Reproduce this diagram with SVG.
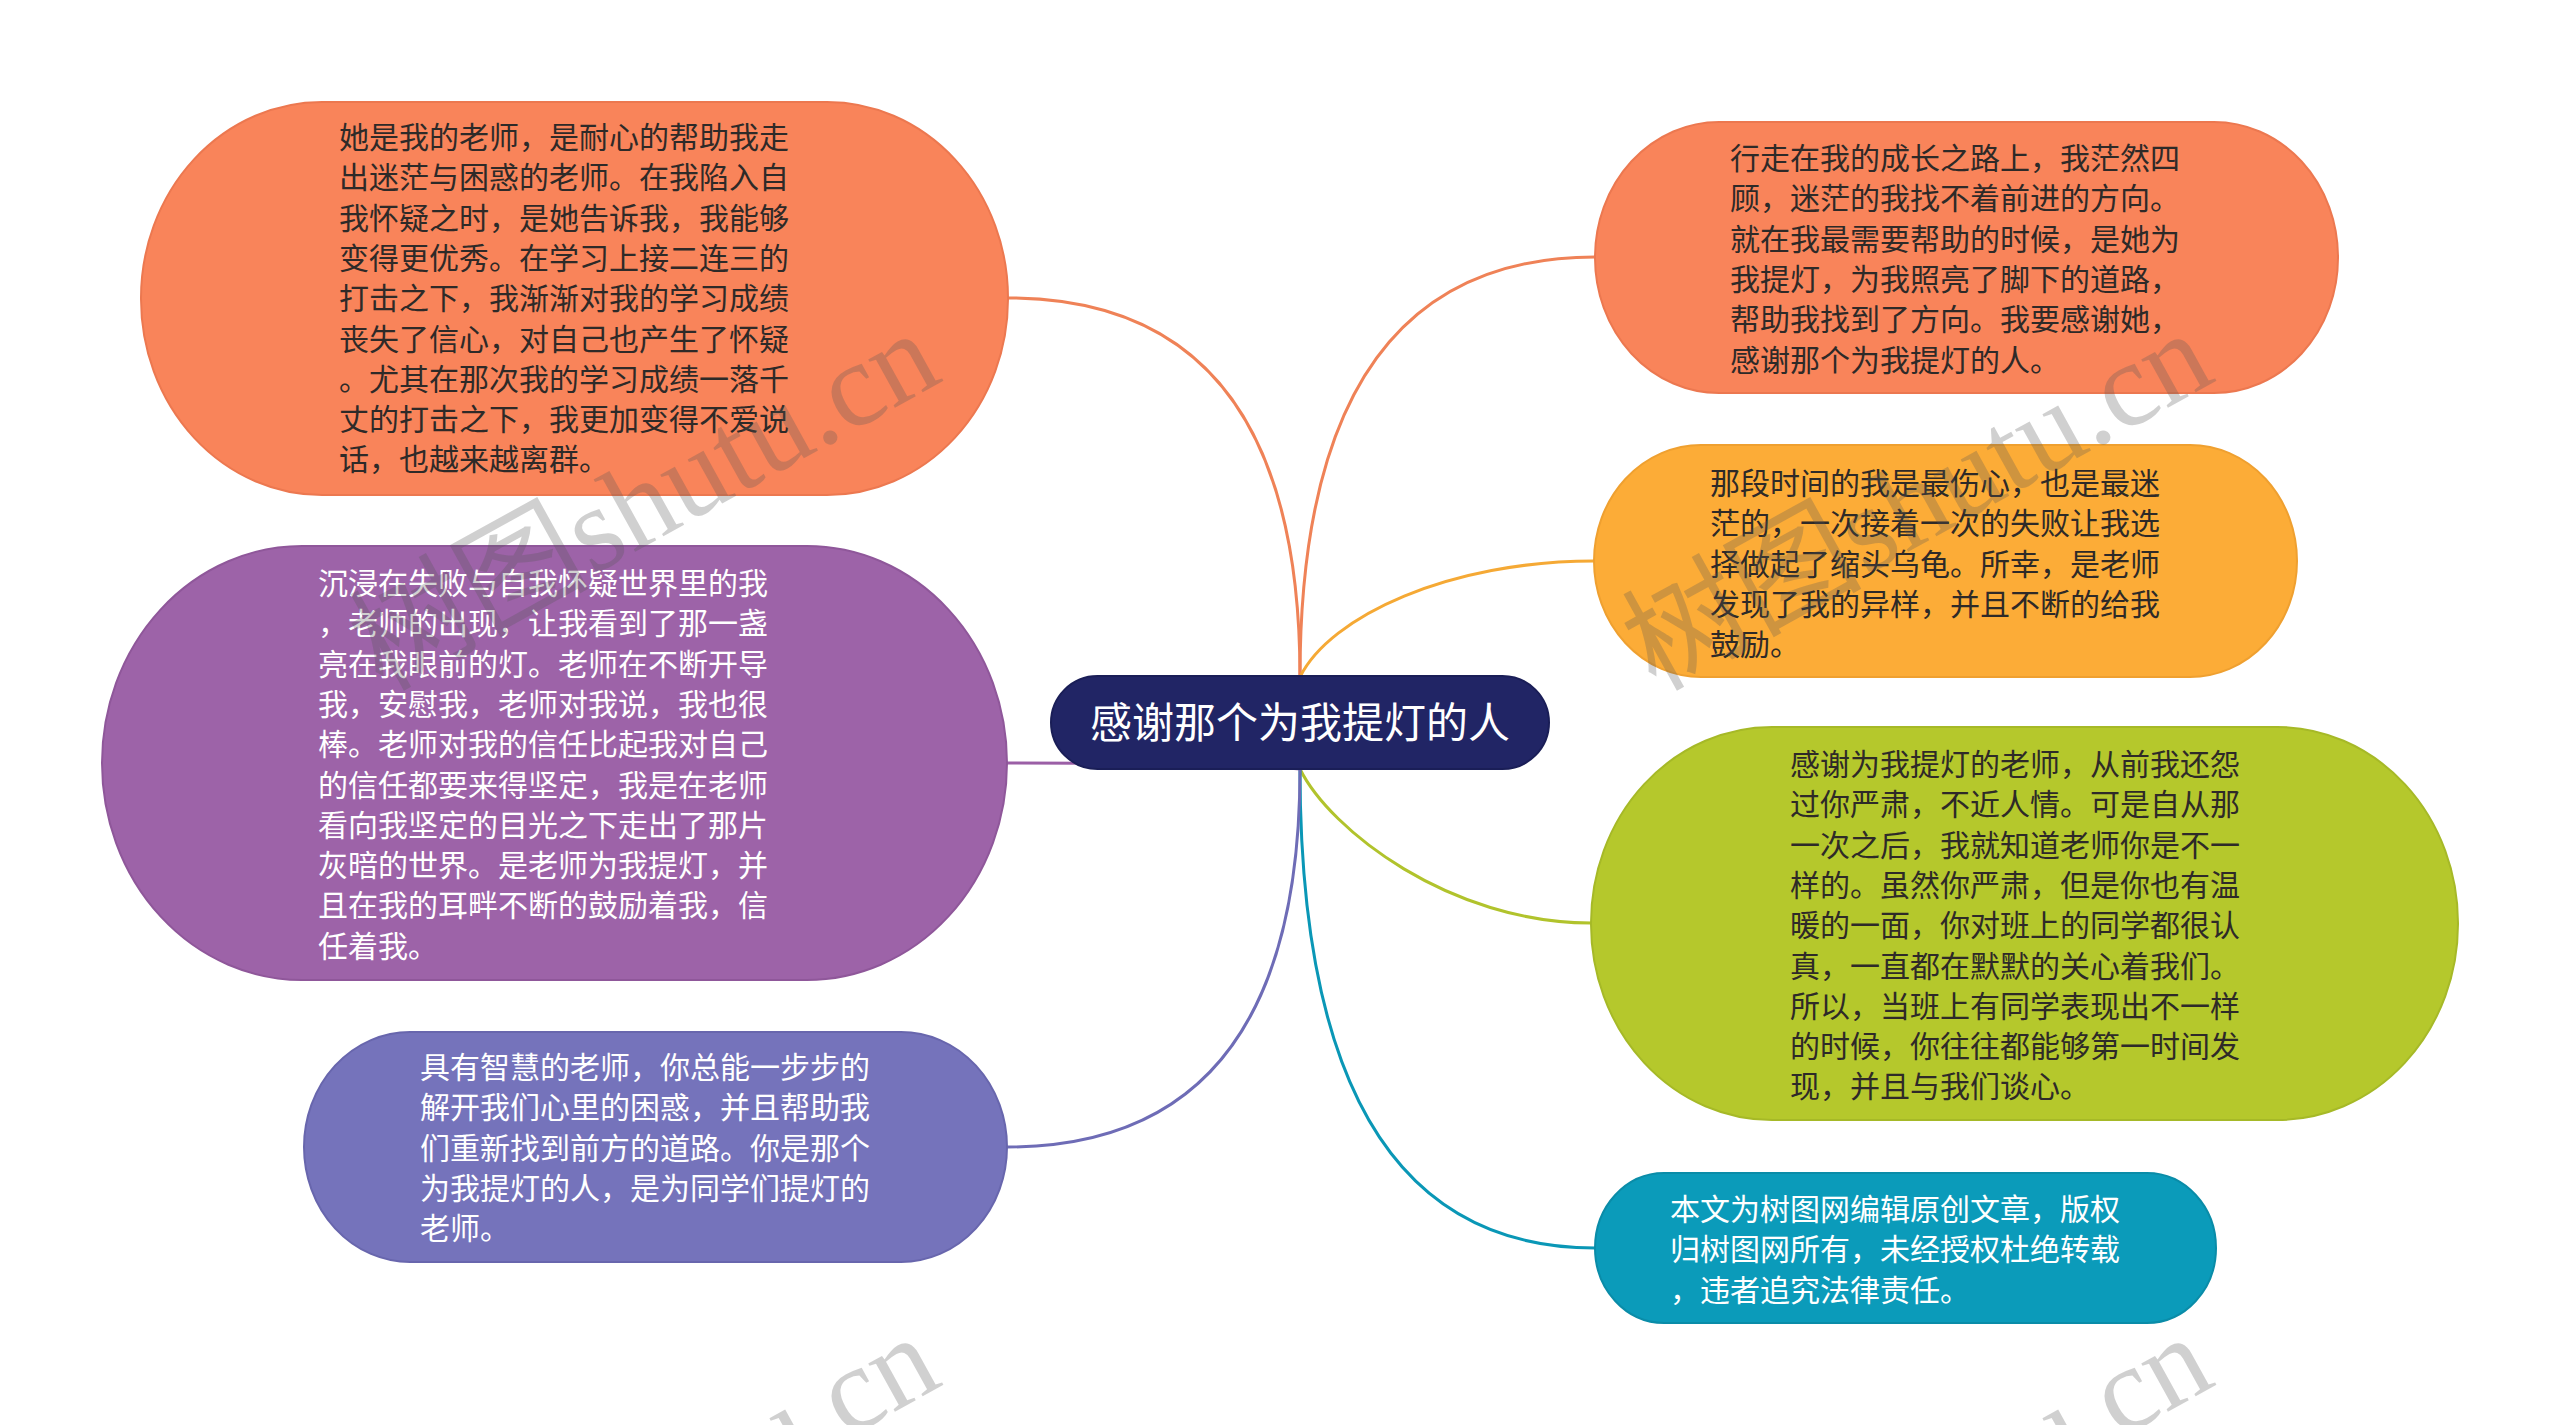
<svg xmlns="http://www.w3.org/2000/svg" width="2560" height="1425" viewBox="0 0 2560 1425">
<style>
.t{font-family:"Noto Sans CJK SC","Noto Sans",sans-serif;font-size:30px}
.dk{fill:#2e2a28}
.wt{fill:#ffffff}
.c{fill:none;stroke-width:3;stroke-linecap:round}
.wm{font-family:"Liberation Serif","Noto Sans CJK SC",serif;font-size:120px;fill:#555;fill-opacity:0.28}
</style>
<rect x="0" y="0" width="2560" height="1425" fill="#ffffff"/>
<g id="connectors">
<path class="c" stroke="#EF8257" d="M1300,677 Q1300,298 1008,298"/>
<path class="c" stroke="#EF8257" d="M1300,677 Q1300,257 1595,257"/>
<path class="c" stroke="#F5A935" d="M1300,677 C1330,616 1450,561 1594,561"/>
<path class="c" stroke="#B1C32C" d="M1300,769 C1330,830 1450,923 1591,923"/>
<path class="c" stroke="#0A97B6" d="M1300,769 Q1300,1248 1595,1248"/>
<path class="c" stroke="#9B5FA6" d="M1300,769 C1250,763 1100,763 1007,763"/>
<path class="c" stroke="#6E6CB6" d="M1300,769 Q1300,1147 1007,1147"/>
</g>
<g id="node-1">
<rect x="141" y="102" width="867" height="393" rx="181" ry="196" fill="#F9845A" stroke="#EC7850" stroke-width="2"/>
<text class="t dk" x="339" y="148"><tspan x="339">她是我的老师，是耐心的帮助我走</tspan><tspan x="339" dy="40.3">出迷茫与困惑的老师。在我陷入自</tspan><tspan x="339" dy="40.3">我怀疑之时，是她告诉我，我能够</tspan><tspan x="339" dy="40.3">变得更优秀。在学习上接二连三的</tspan><tspan x="339" dy="40.3">打击之下，我渐渐对我的学习成绩</tspan><tspan x="339" dy="40.3">丧失了信心，对自己也产生了怀疑</tspan><tspan x="339" dy="40.3">。尤其在那次我的学习成绩一落千</tspan><tspan x="339" dy="40.3">丈的打击之下，我更加变得不爱说</tspan><tspan x="339" dy="40.3">话，也越来越离群。</tspan></text>
</g>
<g id="node-2">
<rect x="1595" y="122" width="743" height="271" rx="124" ry="135" fill="#F9845A" stroke="#EC7850" stroke-width="2"/>
<text class="t dk" x="1730" y="169"><tspan x="1730">行走在我的成长之路上，我茫然四</tspan><tspan x="1730" dy="40.3">顾，迷茫的我找不着前进的方向。</tspan><tspan x="1730" dy="40.3">就在我最需要帮助的时候，是她为</tspan><tspan x="1730" dy="40.3">我提灯，为我照亮了脚下的道路，</tspan><tspan x="1730" dy="40.3">帮助我找到了方向。我要感谢她，</tspan><tspan x="1730" dy="40.3">感谢那个为我提灯的人。</tspan></text>
</g>
<g id="node-3">
<rect x="1594" y="445" width="703" height="232" rx="107" ry="116" fill="#FCAC37" stroke="#EFA030" stroke-width="2"/>
<text class="t dk" x="1710" y="494"><tspan x="1710">那段时间的我是最伤心，也是最迷</tspan><tspan x="1710" dy="40.3">茫的，一次接着一次的失败让我选</tspan><tspan x="1710" dy="40.3">择做起了缩头乌龟。所幸，是老师</tspan><tspan x="1710" dy="40.3">发现了我的异样，并且不断的给我</tspan><tspan x="1710" dy="40.3">鼓励。</tspan></text>
</g>
<g id="node-4">
<rect x="1591" y="727" width="867" height="393" rx="181" ry="196" fill="#B5C82C" stroke="#A6B927" stroke-width="2"/>
<text class="t dk" x="1790" y="775"><tspan x="1790">感谢为我提灯的老师，从前我还怨</tspan><tspan x="1790" dy="40.3">过你严肃，不近人情。可是自从那</tspan><tspan x="1790" dy="40.3">一次之后，我就知道老师你是不一</tspan><tspan x="1790" dy="40.3">样的。虽然你严肃，但是你也有温</tspan><tspan x="1790" dy="40.3">暖的一面，你对班上的同学都很认</tspan><tspan x="1790" dy="40.3">真，一直都在默默的关心着我们。</tspan><tspan x="1790" dy="40.3">所以，当班上有同学表现出不一样</tspan><tspan x="1790" dy="40.3">的时候，你往往都能够第一时间发</tspan><tspan x="1790" dy="40.3">现，并且与我们谈心。</tspan></text>
</g>
<g id="node-5">
<rect x="1595" y="1173" width="621" height="150" rx="69" ry="75" fill="#0B9BBA" stroke="#0A8CA8" stroke-width="2"/>
<text class="t wt" x="1670" y="1220"><tspan x="1670">本文为树图网编辑原创文章，版权</tspan><tspan x="1670" dy="40.3">归树图网所有，未经授权杜绝转载</tspan><tspan x="1670" dy="40.3">，违者追究法律责任。</tspan></text>
</g>
<g id="node-6">
<rect x="102" y="546" width="905" height="434" rx="200" ry="217" fill="#9D63A8" stroke="#8F579A" stroke-width="2"/>
<text class="t wt" x="318" y="594"><tspan x="318">沉浸在失败与自我怀疑世界里的我</tspan><tspan x="318" dy="40.3">，老师的出现，让我看到了那一盏</tspan><tspan x="318" dy="40.3">亮在我眼前的灯。老师在不断开导</tspan><tspan x="318" dy="40.3">我，安慰我，老师对我说，我也很</tspan><tspan x="318" dy="40.3">棒。老师对我的信任比起我对自己</tspan><tspan x="318" dy="40.3">的信任都要来得坚定，我是在老师</tspan><tspan x="318" dy="40.3">看向我坚定的目光之下走出了那片</tspan><tspan x="318" dy="40.3">灰暗的世界。是老师为我提灯，并</tspan><tspan x="318" dy="40.3">且在我的耳畔不断的鼓励着我，信</tspan><tspan x="318" dy="40.3">任着我。</tspan></text>
</g>
<g id="node-7">
<rect x="304" y="1032" width="703" height="230" rx="106" ry="115" fill="#7573BB" stroke="#6866AD" stroke-width="2"/>
<text class="t wt" x="420" y="1078"><tspan x="420">具有智慧的老师，你总能一步步的</tspan><tspan x="420" dy="40.3">解开我们心里的困惑，并且帮助我</tspan><tspan x="420" dy="40.3">们重新找到前方的道路。你是那个</tspan><tspan x="420" dy="40.3">为我提灯的人，是为同学们提灯的</tspan><tspan x="420" dy="40.3">老师。</tspan></text>
</g>
<g id="center">
<rect x="1051" y="676" width="498" height="93" rx="46.5" ry="46.5" fill="#212565" stroke="#1A1E57" stroke-width="2"/>
<text x="1300" y="738" text-anchor="middle" style="font-family:'Noto Sans CJK SC','Noto Sans',sans-serif;font-size:42px;fill:#ffffff">感谢那个为我提灯的人</text>
</g>
<g id="watermarks">
<text class="wm" text-anchor="end" transform="translate(945,380) rotate(-29)">树图shutu.cn</text>
<text class="wm" text-anchor="end" transform="translate(2218,380) rotate(-29)">树图shutu.cn</text>
<text class="wm" text-anchor="end" transform="translate(945,1384) rotate(-29)">树图shutu.cn</text>
<text class="wm" text-anchor="end" transform="translate(2218,1384) rotate(-29)">树图shutu.cn</text>
</g>
</svg>
